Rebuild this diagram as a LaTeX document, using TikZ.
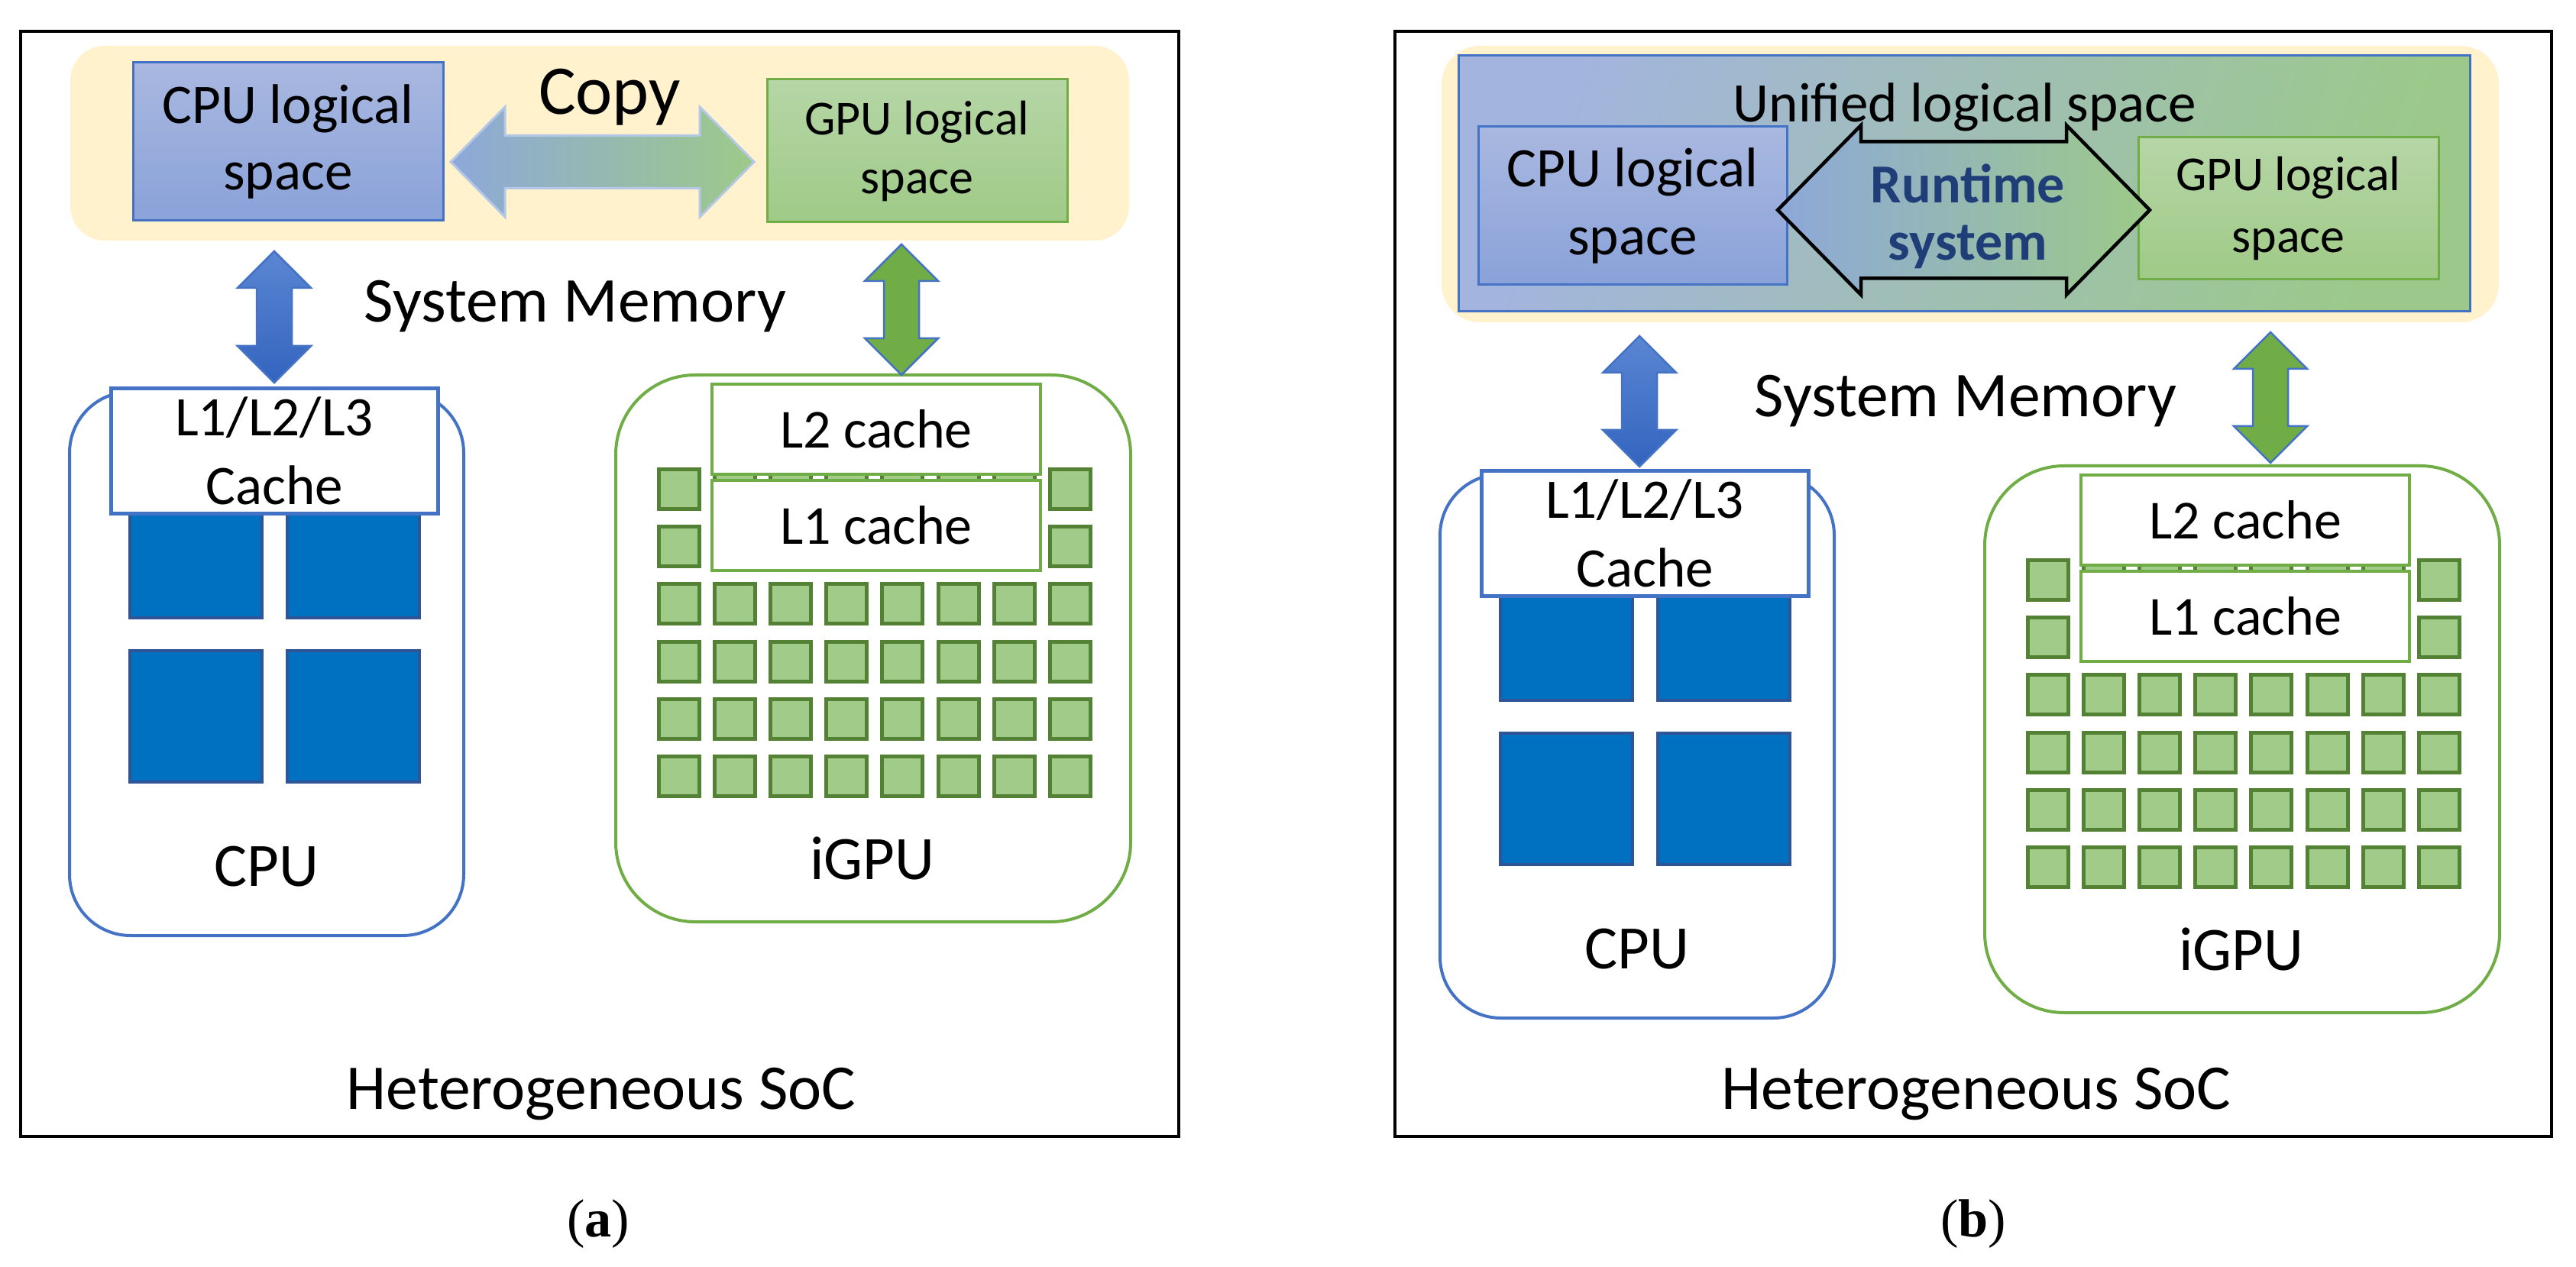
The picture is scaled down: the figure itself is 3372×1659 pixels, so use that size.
\documentclass[tikz,border=0pt]{standalone}
\usepackage{fontspec}
\setmainfont{Carlito}
\newfontfamily\capfont{Liberation Serif}
\usetikzlibrary{calc}

\definecolor{memyellow}{HTML}{FFF2CC}
\definecolor{cpublue}{HTML}{4472C4}
\definecolor{cpulight}{HTML}{A9B8E0}
\definecolor{cpudeep}{HTML}{8AA2D9}
\definecolor{gpugreen}{HTML}{70AD47}
\definecolor{gpulight}{HTML}{B6D6A6}
\definecolor{gpudeep}{HTML}{9FCA87}
\definecolor{unitop}{HTML}{A3B4DE}
\definecolor{unibot}{HTML}{9CC98B}
\definecolor{linkleft}{HTML}{8DA8D9}
\definecolor{linkright}{HTML}{9DCA89}
\definecolor{copyline}{HTML}{B4C7E7}
\definecolor{arrowtop}{HTML}{5A86D3}
\definecolor{arrowbot}{HTML}{3364BE}
\definecolor{corefill}{HTML}{0070C0}
\definecolor{coreline}{HTML}{2F5597}
\definecolor{cufill}{HTML}{A1CB89}
\definecolor{culine}{HTML}{548235}
\definecolor{rtblue}{HTML}{1F3E78}

\tikzset{
  socframe/.style={draw=black,line width=0.4mm},
  memarea/.style={fill=memyellow,rounded corners=4.5mm},
  cpulogical/.style={draw=cpublue,line width=0.3mm,top color=cpulight,bottom color=cpudeep},
  gpulogical/.style={draw=gpugreen,line width=0.3mm,top color=gpulight,bottom color=gpudeep},
  unified/.style={draw=cpublue,line width=0.3mm,top color=unitop,bottom color=unibot,shading angle=70},
  copyarrow/.style={draw=copyline,line width=0.3mm,left color=linkleft,right color=linkright},
  rtarrow/.style={draw=black,line width=0.45mm,left color=linkleft,right color=linkright},
  cpuarrow/.style={draw=cpublue,line width=0.25mm,top color=arrowtop,bottom color=arrowbot},
  gpuarrow/.style={draw=cpublue,line width=0.25mm,fill=gpugreen},
  cpuchip/.style={draw=cpublue,line width=0.4mm,fill=white,rounded corners=8mm},
  core/.style={draw=coreline,fill=corefill,line width=0.4mm},
  cachebox/.style={draw=cpublue,fill=white,line width=0.5mm},
  gpuchip/.style={draw=gpugreen,line width=0.4mm,rounded corners=10.4mm},
  cu/.style={draw=culine,fill=cufill,line width=0.5mm},
  gpucache/.style={draw=gpugreen,fill=white,line width=0.4mm},
  boxtext/.style={align=center,inner sep=0pt},
  bigtext/.style={anchor=base,inner sep=0pt,font=\fontsize{23.8}{28}\selectfont},
  midtext/.style={anchor=base,inner sep=0pt,font=\fontsize{20.8}{25}\selectfont},
}

% vertical double arrow between two points
\newcommand{\vlink}[3]{%
  \draw[#3] (#1) -- ($(#1)+(48,48)$) -- ($(#1)+(23,48)$) -- ($(#2)+(23,-48)$) -- ($(#2)+(48,-48)$) -- (#2)
    -- ($(#2)+(-48,-48)$) -- ($(#2)+(-23,-48)$) -- ($(#1)+(-23,48)$) -- ($(#1)+(-48,48)$) -- cycle;}
% horizontal double arrow: from, to, head length, head half width, shaft half width, style
\newcommand{\hlink}[6]{%
  \draw[#6] (#1) -- ($(#1)+(#3,-#4)$) -- ($(#1)+(#3,-#5)$) -- ($(#2)+(-#3,-#5)$) -- ($(#2)+(-#3,-#4)$) -- (#2)
    -- ($(#2)+(-#3,#4)$) -- ($(#2)+(-#3,#5)$) -- ($(#1)+(#3,#5)$) -- ($(#1)+(#3,#4)$) -- cycle;}

\begin{document}
\begin{tikzpicture}[x=0.1mm,y=-0.1mm]
	\useasboundingbox (0,0) rectangle (3372,1659);
	% (a) separate logical spaces
	\draw[socframe] (27,41) rectangle (1543,1488);
	\fill[memarea] (92,60) rectangle (1478,315);
	\draw[cpulogical] (174,82) rectangle node[boxtext,font=\fontsize{20.8}{25}\selectfont] (cpulogA) {CPU logical\\space} (580,289);
	\draw[gpulogical] (1004,104) rectangle node[boxtext,font=\fontsize{18.2}{21.9}\selectfont] (gpulogA) {GPU logical\\space} (1397,291);
	\coordinate (copyL) at (590,212);
	\coordinate (copyR) at (987,212);
	\hlink{copyL}{copyR}{71}{72}{34.5}{copyarrow}
	\node[anchor=base,inner sep=0pt,font=\fontsize{26}{30}\selectfont] (copy) at (798,150) {Copy};
	\node[bigtext] (sysmemA) at (753,422) {System Memory};
	\node[bigtext] (socA) at (787,1452) {Heterogeneous SoC};
	% (b) unified logical space
	\draw[socframe] (1826,41) rectangle (3340,1488);
	\fill[memarea,rounded corners=5mm] (1887,60) rectangle (3271,422);
	\draw[unified] (1909,73) rectangle (3233,408);
	\node[midtext] (uni) at (2572,160) {Unified logical space};
	\draw[cpulogical] (1935,166) rectangle node[boxtext,font=\fontsize{20.8}{25.3}\selectfont] (cpulogB) {CPU logical\\space} (2339,373);
	\draw[gpulogical] (2799,180) rectangle node[boxtext,font=\fontsize{18.2}{22.8}\selectfont] (gpulogB) {GPU logical\\space} (3192,366);
	\coordinate (rtL) at (2327,275);
	\coordinate (rtR) at (2814,275);
	\hlink{rtL}{rtR}{109}{111}{89.5}{rtarrow}
	\node[boxtext,text=rtblue,font=\bfseries\fontsize{20.5}{21.3}\selectfont] (runtime) at (2576,283) {Runtime\\system};
	\node[bigtext] (sysmemB) at (2573,546) {System Memory};
	\node[bigtext] (socB) at (2587,1452) {Heterogeneous SoC};
	% CPU chips
	\foreach \sx/\sy/\p in {0/0/A,1794/108/B}{
		\begin{scope}[shift={(\sx,\sy)}]
			\draw[cpuchip] (91,513) rectangle (607,1225);
			\foreach \cx in {170,376}
				\foreach \cy in {637,852}
					\draw[core] (\cx,\cy) rectangle ++(173,172);
			\draw[cachebox] (145,509) rectangle node[boxtext,font=\fontsize{20.8}{25.6}\selectfont] (cache\p) {L1/L2/L3\\Cache} (573,672);
			\node[bigtext,font=\fontsize{23}{27}\selectfont] (cpu\p) at (349,1160) {CPU};
		\end{scope}
	}
	% iGPU chips
	\foreach \sx/\sy/\p in {0/0/A,1792/119/B}{
		\begin{scope}[shift={(\sx,\sy)}]
			\draw[gpuchip] (806,491) rectangle (1480,1207);
			\foreach \i in {0,...,7}
				\foreach \j in {0,...,5}
					\draw[cu] (862.5+73.1*\i,614.5+75.2*\j) rectangle ++(53,52);
			\draw[gpucache] (932,503) rectangle node[boxtext,font=\fontsize{20.5}{24}\selectfont] (ltwo\p) {L2 cache} (1362,621);
			\draw[gpucache] (932,629) rectangle node[boxtext,font=\fontsize{20.5}{24}\selectfont] (lone\p) {L1 cache} (1362,747);
			\node[bigtext,font=\fontsize{23}{27}\selectfont] (igpu\p) at (1142,1151) {iGPU};
		\end{scope}
	}
	% memory links
	\coordinate (cpuupA) at (359,329);
	\coordinate (cpudnA) at (359,501);
	\vlink{cpuupA}{cpudnA}{cpuarrow}
	\coordinate (gpuupA) at (1180,320);
	\coordinate (gpudnA) at (1180,491);
	\vlink{gpuupA}{gpudnA}{gpuarrow}
	\coordinate (cpuupB) at (2146,440);
	\coordinate (cpudnB) at (2146,611);
	\vlink{cpuupB}{cpudnB}{cpuarrow}
	\coordinate (gpuupB) at (2972,435);
	\coordinate (gpudnB) at (2972,606);
	\vlink{gpuupB}{gpudnB}{gpuarrow}
	% captions
	\node[anchor=base,font=\capfont\fontsize{20}{24}\selectfont] (capA) at (783,1619) {(\textbf{a})};
	\node[anchor=base,font=\capfont\fontsize{20}{24}\selectfont] (capB) at (2583,1619) {(\textbf{b})};
\end{tikzpicture}
\end{document}
